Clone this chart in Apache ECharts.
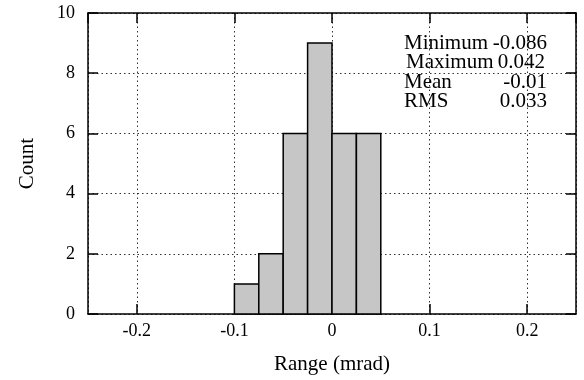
<!DOCTYPE html>
<html><head><meta charset="utf-8">
<script src="https://cdn.jsdelivr.net/npm/echarts@6/dist/echarts.min.js"></script>
<style>html,body{margin:0;padding:0;background:#fff}#c{width:584px;height:380px}</style>
</head><body><div id="c"></div>
<script>
var binStarts = [-0.1, -0.075, -0.05, -0.025, 0, 0.025];
var binWidth = 0.025;
var counts = [1, 2, 6, 9, 6, 6];
var statLabels = ['Minimum', 'Maximum', 'Mean', 'RMS'];
var statValues = ['-0.086', '0.042', '-0.01', '0.033'];
var xTitle = 'Range (mrad)';
var yTitle = 'Count';

var FONT = '"Liberation Serif", "Times New Roman", serif';
var chart = echarts.init(document.getElementById('c'));
var data = binStarts.map(function (s, i) { return [s, s + binWidth, counts[i]]; });

var gridLine = { show: true, lineStyle: { color: '#333', type: [1.5, 3], width: 1 } };
var axLine = { show: true, onZero: false, lineStyle: { color: '#000', width: 1.5 } };
var ticks = { show: true, inside: true, length: 10, lineStyle: { color: '#000', width: 1.5 } };

var graphics = [];
var ys = [45, 64, 84, 103];
var lefts = [404, 406, 404, 404];
var rights = [547, 545, 547, 547];
statLabels.forEach(function (l, i) {
  graphics.push({ type: 'text', left: lefts[i], top: ys[i] - 12, z: 10,
    style: { text: l, font: '21px ' + FONT, fill: '#000' } });
  graphics.push({ type: 'text', right: 584 - rights[i], top: ys[i] - 12, z: 10,
    style: { text: statValues[i], font: '21px ' + FONT, fill: '#000', textAlign: 'right' } });
});

chart.setOption({
  animation: false,
  backgroundColor: '#fff',
  grid: { left: 88, right: 8, top: 13, bottom: 65 },
  xAxis: [{
    type: 'value', min: -0.25, max: 0.25, splitNumber: 5,
    name: xTitle, nameLocation: 'middle', nameGap: 40,
    nameTextStyle: { fontFamily: FONT, fontSize: 21, color: '#000' },
    axisLine: axLine, axisTick: ticks, splitLine: gridLine,
    axisLabel: { showMinLabel: false, showMaxLabel: false, fontFamily: FONT, fontSize: 18, color: '#000', margin: 8,
      formatter: function (v) { return Math.abs(v) < 1e-9 ? '0' : String(+v.toFixed(2)); } }
  }, {
    type: 'value', position: 'top', min: -0.25, max: 0.25, splitNumber: 5,
    axisLine: axLine, axisTick: ticks, splitLine: { show: false }, axisLabel: { show: false }
  }],
  yAxis: [{
    type: 'value', min: 0, max: 10, interval: 2,
    name: yTitle, nameLocation: 'middle', nameGap: 50,
    nameTextStyle: { fontFamily: FONT, fontSize: 21, color: '#000' },
    axisLine: axLine, axisTick: ticks, splitLine: gridLine,
    axisLabel: { fontFamily: FONT, fontSize: 18, color: '#000', margin: 13 }
  }, {
    type: 'value', position: 'right', min: 0, max: 10, interval: 2,
    axisLine: axLine, axisTick: ticks, splitLine: { show: false }, axisLabel: { show: false }
  }],
  series: [{
    type: 'custom',
    data: data,
    encode: { x: [0, 1], y: 2 },
    renderItem: function (params, api) {
      var p0 = api.coord([api.value(0), api.value(2)]);
      var p1 = api.coord([api.value(1), 0]);
      return { type: 'rect', shape: { x: p0[0], y: p0[1], width: p1[0] - p0[0], height: p1[1] - p0[1] },
        style: { fill: '#c6c6c6', stroke: '#000', lineWidth: 1.5 } };
    },
    z: 3
  }],
  graphic: graphics
});
</script></body></html>
